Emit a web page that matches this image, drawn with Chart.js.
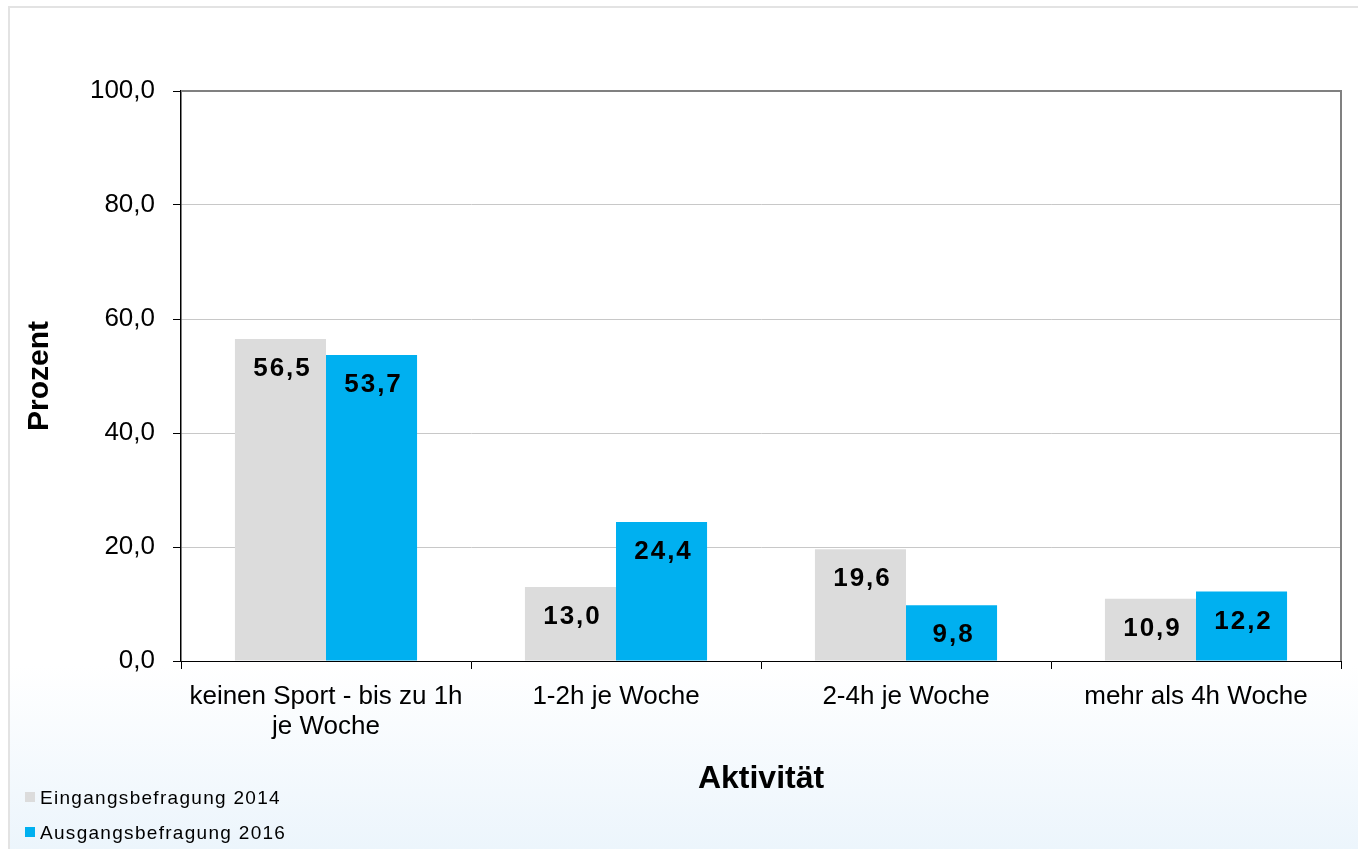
<!DOCTYPE html>
<html>
<head>
<meta charset="utf-8">
<script src="https://cdn.jsdelivr.net/npm/chart.js@4"></script>
<style>
  html, body { margin: 0; padding: 0; background: #fff; }
  #wrap { position: relative; width: 1362px; height: 849px; }
  #legend { position: absolute; left: 25px; top: 785px; font: 19px "Liberation Sans", Arial, sans-serif; letter-spacing: 1.3px; color: #000; }
  #legend div { height: 35px; line-height: 26px; white-space: nowrap; }
  #legend span { display: inline-block; width: 10px; height: 10px; margin-right: 5px; vertical-align: 2px; }
</style>
</head>
<body>
<div id="wrap">
  <canvas id="chart" width="1362" height="849"></canvas>
  <div id="legend"></div>
</div>
<script>
const categories = [['keinen Sport - bis zu 1h', 'je Woche'], '1-2h je Woche', '2-4h je Woche', 'mehr als 4h Woche'];
const seriesNames = ['Eingangsbefragung 2014', 'Ausgangsbefragung 2016'];
const values2014 = [56.5, 13.0, 19.6, 10.9];
const values2016 = [53.7, 24.4, 9.8, 12.2];
const seriesColors = ['#dcdcdc', '#00b0f0'];

const fmt = v => v.toFixed(1).replace('.', ',');
const FONT = '"Liberation Sans", Arial, sans-serif';

// frame, gradient background, white plot area
const backdrop = {
    id: 'backdrop',
    beforeDraw(chart) {
        const { ctx, chartArea: a } = chart;
        ctx.save();
        const g = ctx.createLinearGradient(0, 665, 0, 849);
        g.addColorStop(0, '#ffffff');
        g.addColorStop(1, '#ecf5fc');
        ctx.fillStyle = g;
        ctx.fillRect(8, 6, 1350, 843);
        ctx.strokeStyle = '#e3e3e3';
        ctx.lineWidth = 2;
        ctx.beginPath();
        ctx.moveTo(9, 849);
        ctx.lineTo(9, 7);
        ctx.lineTo(1358, 7);
        ctx.stroke();
        ctx.fillStyle = '#ffffff';
        ctx.fillRect(a.left, a.top, a.right - a.left, a.bottom - a.top);
        ctx.restore();
    },
    afterDatasetsDraw(chart) {
        const { ctx, chartArea: a } = chart;
        ctx.save();
        ctx.strokeStyle = '#808080';
        ctx.lineWidth = 2;
        ctx.beginPath();
        ctx.moveTo(a.left, a.top);
        ctx.lineTo(a.right, a.top);
        ctx.lineTo(a.right, a.bottom);
        ctx.stroke();
        // value labels inside the bars
        ctx.fillStyle = '#000';
        ctx.font = 'bold 26px ' + FONT;
        ctx.letterSpacing = '2px';
        ctx.textAlign = 'center';
        ctx.textBaseline = 'middle';
        chart.data.datasets.forEach((ds, i) => {
            chart.getDatasetMeta(i).data.forEach((bar, j) => {
                ctx.fillText(fmt(ds.data[j]), bar.x + 2, bar.y + 30);
            });
        });
        ctx.restore();
    }
};

new Chart(document.getElementById('chart'), {
    type: 'bar',
    data: {
        labels: categories,
        datasets: [
            { label: seriesNames[0], data: values2014, backgroundColor: seriesColors[0] },
            { label: seriesNames[1], data: values2016, backgroundColor: seriesColors[1] }
        ]
    },
    options: {
        responsive: false,
        animation: false,
        datasets: { bar: { categoryPercentage: 0.628, barPercentage: 1.0 } },
        layout: { padding: { left: 8, top: 91, right: 21, bottom: 45 } },
        plugins: { legend: { display: false }, tooltip: { enabled: false } },
        scales: {
            x: {
                afterFit: s => { s.height = 849 - 661 - 45; },
                grid: { offset: true, drawOnChartArea: false, tickLength: 8, color: '#000', lineWidth: 1 },
                border: { color: '#000', width: 1 },
                ticks: {
                    color: '#000',
                    padding: 13,
                    font: { family: FONT, size: 26, lineHeight: 1.15 }
                },
                title: {
                    display: true,
                    text: 'Aktivität',
                    color: '#000',
                    padding: { top: 0, bottom: 6 },
                    font: { family: FONT, size: 32, weight: 'bold' }
                }
            },
            y: {
                min: 0,
                max: 100,
                afterFit: s => { s.width = 181 - 8; },
                ticks: {
                    stepSize: 20,
                    color: '#000',
                    padding: 18,
                    callback: v => fmt(v),
                    font: { family: FONT, size: 26 }
                },
                grid: { color: '#c8c8c8', tickColor: '#000', tickLength: 8, lineWidth: 1 },
                border: { color: '#000', width: 1.5 },
                title: {
                    display: true,
                    text: 'Prozent',
                    color: '#000',
                    padding: { top: 14, bottom: 0 },
                    font: { family: FONT, size: 30, weight: 'bold' }
                }
            }
        }
    },
    plugins: [backdrop]
});

const legend = document.getElementById('legend');
seriesNames.forEach((name, i) => {
    const row = document.createElement('div');
    const box = document.createElement('span');
    box.style.background = seriesColors[i];
    row.appendChild(box);
    row.appendChild(document.createTextNode(name));
    legend.appendChild(row);
});
</script>
</body>
</html>
